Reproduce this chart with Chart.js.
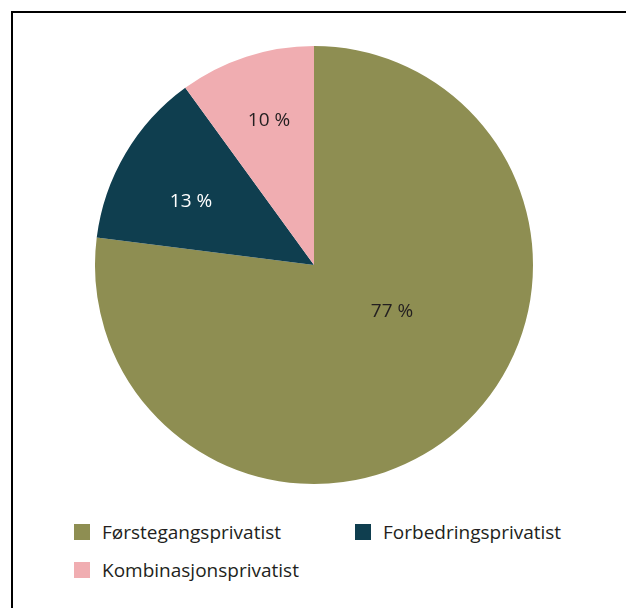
<!DOCTYPE html>
<html><head><meta charset="utf-8">
<script src="https://cdn.jsdelivr.net/npm/chart.js@4/dist/chart.umd.min.js"></script>
<style>
html,body{margin:0;padding:0;background:#fff;}
#wrap{position:relative;width:626px;height:608px;overflow:hidden;font-family:"Open Sans",sans-serif;}
#frame{position:absolute;left:11px;top:11px;width:640px;height:640px;border-left:2px solid #000;border-top:2px solid #000;}
#cv{position:absolute;left:84px;top:35px;width:460px;height:460px;}
.lg{position:absolute;display:flex;align-items:center;font-size:19px;color:#231f20;white-space:nowrap;}
.sw{width:16px;height:16px;margin-right:12px;}
</style></head>
<body><div id="wrap"><div id="frame"></div><canvas id="cv" width="460" height="460"></canvas><div id="legend"></div></div>
<script>
const categories = ["Førstegangsprivatist", "Forbedringsprivatist", "Kombinasjonsprivatist"];
const values = [77, 13, 10];
const valueLabels = ["77 %", "13 %", "10 %"];
const colors = ["#8e8e52", "#0f3e4f", "#f0adb1"];
const labelColors = ["#231f20", "#ffffff", "#231f20"];
// label placement: fraction of radius, angle shift (rad)
const labelPlace = [[0.416, -0.305], [0.631, -0.061], [0.689, 0.011]];
const legendPos = [[74, 533], [355, 533], [74, 571]];

const labelPlugin = {
  id: 'lbl',
  afterDatasetsDraw(chart) {
    const ctx = chart.ctx;
    const meta = chart.getDatasetMeta(0);
    meta.data.forEach((arc, i) => {
      const p = arc.getProps(['x','y','startAngle','endAngle','outerRadius'], true);
      const a = (p.startAngle + p.endAngle) / 2 + labelPlace[i][1];
      const r = p.outerRadius * labelPlace[i][0];
      ctx.save();
      ctx.font = '19px "Open Sans"';
      ctx.fillStyle = labelColors[i];
      ctx.textAlign = 'center';
      ctx.textBaseline = 'middle';
      ctx.fillText(valueLabels[i], p.x + Math.cos(a) * r, p.y + Math.sin(a) * r);
      ctx.restore();
    });
  }
};

new Chart(document.getElementById('cv'), {
  type: 'pie',
  data: { labels: categories, datasets: [{ data: values, backgroundColor: colors, borderWidth: 0 }] },
  options: {
    responsive: false, animation: false,
    layout: { padding: 11 },
    plugins: { legend: { display: false }, tooltip: { enabled: false } }
  },
  plugins: [labelPlugin]
});

const lg = document.getElementById('legend');
categories.forEach((c, i) => {
  const d = document.createElement('div');
  d.className = 'lg';
  d.style.left = legendPos[i][0] + 'px';
  d.style.top = (legendPos[i][1] - 13) + 'px';
  d.style.height = '24px';
  d.innerHTML = '<div class="sw" style="background:' + colors[i] + '"></div><span>' + c + '</span>';
  lg.appendChild(d);
});
</script></body></html>
